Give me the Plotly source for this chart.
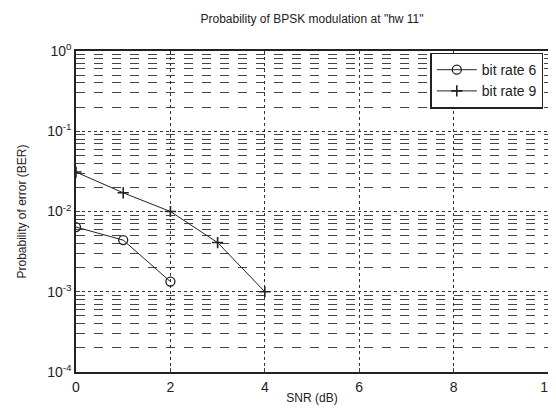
import plotly.graph_objects as go

snr6 = [0, 1, 2]
ber6 = [6.4e-3, 4.4e-3, 1.34e-3]
snr9 = [0, 1, 2, 3, 4]
ber9 = [3.1e-2, 1.71e-2, 1.0e-2, 4.1e-3, 1.0e-3]
xticks = [0, 2, 4, 6, 8, 10]
yticks = [1e-4, 1e-3, 1e-2, 1e-1, 1]
yticktext = ["10<sup>-4</sup>", "10<sup>-3</sup>", "10<sup>-2</sup>", "10<sup>-1</sup>", "10<sup>0</sup>"]

minor_y = [m * d for d in yticks[:-1] for m in range(2, 10)]

fig = go.Figure()
fig.add_trace(go.Scatter(x=snr6, y=ber6, mode='lines+markers', name='bit rate 6',
                         line=dict(color='#222', width=1),
                         marker=dict(symbol='circle-open', size=9, color='#222', line=dict(width=1.3))))
fig.add_trace(go.Scatter(x=snr9, y=ber9, mode='lines+markers', name='bit rate 9',
                         line=dict(color='#222', width=1),
                         marker=dict(symbol='cross-thin-open', size=8, color='#222', line=dict(width=1.6, color='#222'))))

fig.update_layout(
    width=556, height=410,
    margin=dict(l=68, r=16, t=43, b=46),
    paper_bgcolor='white', plot_bgcolor='white',
    font=dict(family='Liberation Sans, Arial', size=13, color='#222'),
    title=dict(text='Probability of BPSK modulation at "hw 11"', x=0.5, xref='paper', y=0.985, yanchor='top',
               font=dict(size=12)),
    showlegend=True,
    legend=dict(x=0.99, y=0.995, xanchor='right', yanchor='top', bgcolor='white', itemwidth=40,
                bordercolor='#222', borderwidth=1.5, font=dict(size=14), tracegroupgap=0),
    xaxis=dict(range=[0, 10], tickvals=xticks, showgrid=True, gridcolor='#333', griddash='dot', gridwidth=1,
               showline=True, linecolor='#222', linewidth=1.5, mirror=True, ticks='inside', ticklen=4,
               zeroline=False, automargin=False, tickfont=dict(size=14), ticklabelstandoff=1,
               title=dict(text='SNR (dB)', standoff=0, font=dict(size=12))),
    yaxis=dict(type='log', range=[-4, 0], tickvals=yticks, ticktext=yticktext, showgrid=True,
               gridcolor='#333', griddash='dot', gridwidth=1, automargin=False, tickfont=dict(size=14),
               showline=True, linecolor='#222', linewidth=1.5, mirror=True, ticks='inside', ticklen=4,
               title=dict(text='Probability of error (BER)', standoff=18, font=dict(size=12)),
               minor=dict(tickvals=minor_y, showgrid=True, gridcolor='#444', griddash='dash', gridwidth=1,
                          ticks='inside', ticklen=2)),
)

fig.write_html("out.html")
